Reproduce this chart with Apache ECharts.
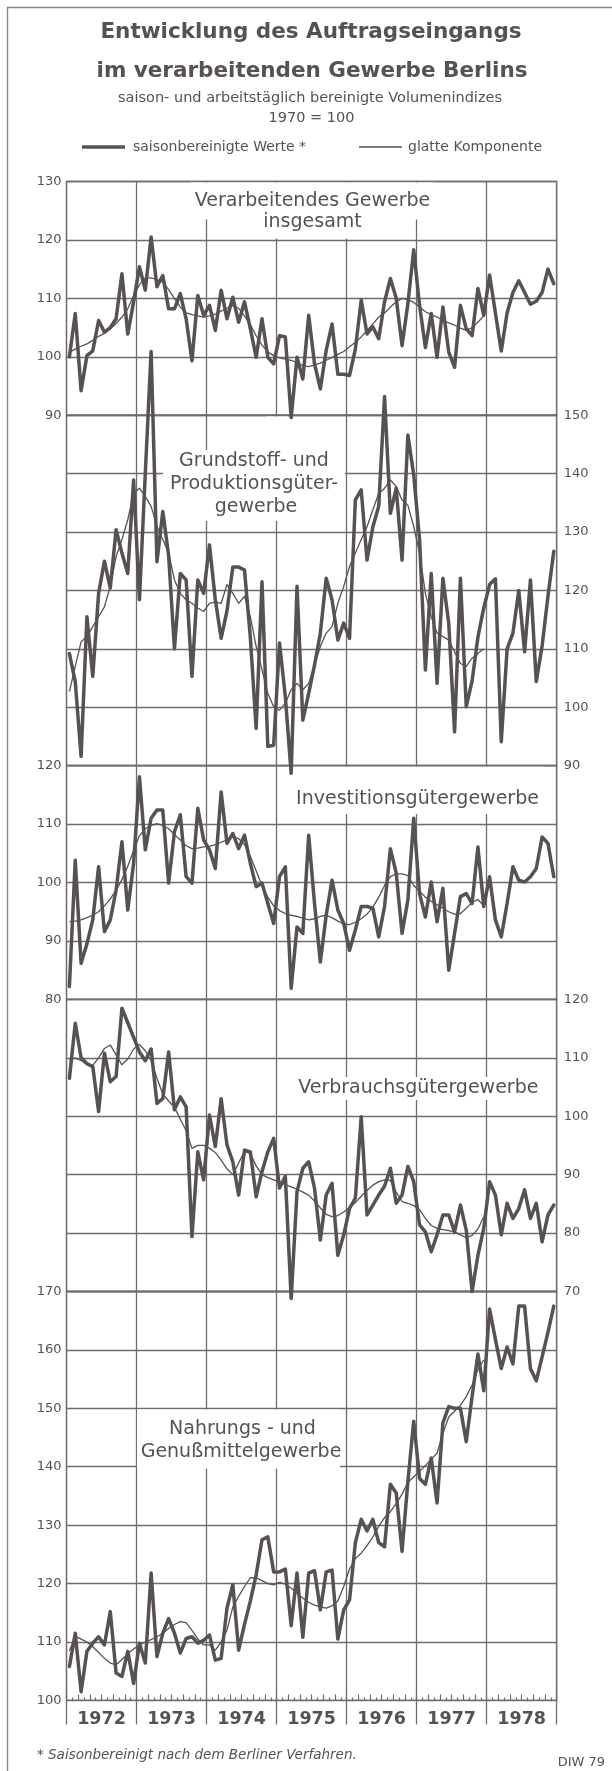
<!DOCTYPE html>
<html><head><meta charset="utf-8">
<script src="https://cdn.jsdelivr.net/npm/echarts@6/dist/echarts.min.js"></script>
<style>html,body{margin:0;padding:0;background:#fff}#c{width:612px;height:1771px}</style>
</head><body><div id="c"></div>
<script>
// ---------------- DATA ----------------
const years = ['1972','1973','1974','1975','1976','1977','1978'];

// Verarbeitendes Gewerbe insgesamt
const verarbRaw = [
 100, 107.4, 94.2, 100.2, 101, 106.2, 104.2, 105, 106.5, 114.2, 103.9, 109.4,
 115.4, 111.4, 120.5, 112, 113.9, 108.2, 108.2, 110.8, 106.5, 99.3, 110.5, 107.1,
 108.8, 104.5, 111.4, 106.5, 110.2, 105.9, 109.4, 104.8, 99.9, 106.5, 99.9, 98.8,
 103.6, 103.4, 89.6, 99.9, 96.2, 107.1, 98.8, 94.5, 101.1, 105.6, 97, 97,
 96.8, 101.3, 109.7, 103.9, 105.1, 103.1, 109.4, 113.4, 110, 101.9, 109.1, 118.3,
 108.8, 101.6, 107.4, 99.9, 108.5, 100.8, 98.2, 108.8, 104.8, 103.6, 111.7, 107.1,
 114, 107.5, 101, 107.5, 111, 113, 111, 109, 109.5, 111, 115, 112.5];
const verarbSmooth = [
 100.8, 101.3, 101.8, 102.2, 102.8, 103.5, 104, 104.8, 105.7, 106.8, 108.2, 110.5,
 112.3, 113.5, 113.5, 113.2, 112.8, 111.5, 110, 108.5, 107.5, 107.2, 107, 106.8,
 107, 107.3, 107.8, 108.3, 108.8, 108.3, 107, 105.5, 103.6, 102, 100.8, 100.2,
 99.8, 99.6, 99.4, 99, 98.5, 98.3, 98.6, 98.9, 99.4, 99.9, 100.4, 100.9,
 101.7, 102.5, 103.4, 104.5, 105.6, 106.8, 107.5, 108.5, 109.4, 110, 109.8, 109.3,
 108.5, 107.7, 107.2, 106.8, 106.2, 105.8, 105.4, 104.9, 104.5, 105, 105.9, 107];

// Grundstoff- und Produktionsgütergewerbe
const grundRaw = [
 109.2, 104.4, 91.6, 115.5, 105.3, 119.5, 125, 120.4, 130.4, 126.4, 122.9, 138.9,
 118.4, 140, 160.9, 124.9, 133.5, 126, 110, 122.9, 121.8, 105.3, 121.8, 119.5,
 127.8, 118.4, 111.8, 116.5, 124, 124, 123.5, 112, 96.4, 121.5, 93.3, 93.5,
 111, 101.8, 88.7, 120.7, 97.8, 102.4, 107.2, 112.7, 122.1, 118.4, 111.5, 114.4,
 111.8, 135.5, 137.2, 125.2, 130.9, 134.4, 153.2, 133.2, 137.5, 125.2, 146.6, 139.8,
 128.7, 106.4, 122.9, 104.1, 122.1, 114.4, 95.8, 122.1, 100.1, 104.5, 112, 117,
 121, 122, 94.1, 110, 112.7, 120, 109.5, 121.8, 104.4, 110.5, 119, 126.7];
const grundSmooth = [
 102.7, 107, 111.2, 112.1, 113.8, 115.5, 117.2, 120.7, 125.8, 128.7, 132.1, 136.6,
 137.5, 136.1, 134.4, 131, 128.7, 126.4, 121.8, 119.5, 118.4, 117.8, 117, 116.4,
 117.8, 118, 117.8, 121, 119.5, 117.8, 119, 115.5, 110.4, 106.4, 102.4, 100.1,
 99.5, 100.7, 103, 104.1, 103, 104.1, 107.2, 110.4, 112.7, 113.8, 117.8, 120.7,
 124.1, 126.4, 128.7, 130.9, 133.8, 136.6, 137.5, 138.9, 137.8, 135.5, 134.6, 130.9,
 126.4, 119.5, 115.5, 112.7, 112.1, 111.5, 109.5, 107.5, 107, 108.4, 109.2, 110];

// Investitionsgütergewerbe
const investRaw = [
 82.2, 103.8, 86.2, 89.5, 93.6, 102.7, 91.6, 93.6, 98.7, 107, 95.3, 103.3,
 118.1, 105.6, 111, 112.4, 112.4, 99.9, 108.7, 111.6, 101, 99.9, 112.7, 107.3,
 105.6, 102.4, 115.5, 106.7, 108.4, 105.8, 108.1, 103.3, 99.3, 99.9, 96.4, 93,
 101, 102.7, 81.9, 92.4, 91.3, 108.1, 96.4, 86.4, 94.4, 100.4, 95.3, 93,
 88.4, 91.9, 95.9, 95.9, 95.6, 90.7, 95.9, 105.8, 101.6, 91.3, 97, 111,
 98.1, 94.1, 100.1, 93.3, 99, 85, 91.3, 97.6, 98.1, 96.4, 106.1, 95.9,
 101, 93.6, 90.7, 96.4, 102.7, 100.4, 100.1, 101, 102.4, 107.8, 106.7, 101];
const investSmooth = [
 93.3, 93.4, 93.6, 94, 94.4, 95, 96, 97.2, 98.7, 100.5, 102.8, 105.5,
 108, 109.2, 109.8, 110.1, 109.8, 109.2, 108.2, 107.3, 106.3, 105.8, 105.9, 106.1,
 106.2, 106.5, 106.9, 107.3, 107.8, 107.5, 106.5, 104.5, 102, 99.5, 97.5, 96,
 95.2, 94.7, 94.4, 94.2, 93.9, 93.6, 93.8, 94.2, 94.4, 94, 93.4, 92.9,
 92.8, 93.2, 93.8, 94.6, 95.8, 97.5, 99.5, 101, 101.5, 101.5, 101.2, 99.5,
 98.5, 97.5, 96.8, 96.2, 95.6, 95, 94.6, 94.7, 95.6, 96.6, 97.1, 96];

// Verbrauchsgütergewerbe
const verbrRaw = [
 106.5, 115.9, 110, 109, 108.5, 100.8, 110.8, 105.9, 106.8, 118.5, 116, 113.5,
 111, 109.5, 111.5, 102.2, 103, 111, 101.1, 103.3, 101.6, 79.4, 93.9, 89.1,
 100.2, 94.8, 103, 95.1, 92.2, 86.5, 94.2, 93.9, 86.2, 90.5, 93.9, 96.2,
 87.7, 89.7, 68.8, 87.1, 91.1, 92.2, 87.7, 78.8, 86.5, 88.5, 76.2, 79.7,
 84.2, 86, 99.9, 83.1, 84.8, 86.5, 88, 91.1, 85.1, 86.5, 91.4, 88.8,
 81.4, 80.2, 76.8, 79.7, 83.1, 83.1, 80.2, 84.8, 80.5, 70, 76.2, 80.8,
 88.8, 86.5, 79.7, 85.1, 82.5, 84.2, 87.4, 82.5, 85.1, 78.5, 83.1, 84.8];
const verbrSmooth = [
 109.6, 110, 109.5, 109, 108.7, 110, 111.6, 112.2, 110.5, 108.8, 109.8, 111.5,
 112.3, 111.2, 109.5, 106.5, 103.8, 102.6, 101.5, 99.5, 97.5, 94.5, 95, 95,
 94.5, 93.8, 92.5, 91, 90, 92, 94, 93.6, 91.5, 90, 89.5, 89.1,
 88.7, 88.3, 87.9, 87.5, 87, 86.5, 85.5, 84.3, 83.2, 82.8, 83, 83.6,
 84.4, 85.2, 86.3, 87.3, 88.2, 88.8, 89.1, 89, 87, 85.4, 85.1, 84.7,
 84, 82.5, 81.3, 80.8, 80.6, 80.4, 80.2, 79.7, 79.2, 79.6, 80.7, 82.8];

// Nahrungs- und Genußmittelgewerbe
const nahrRaw = [
 105.8, 111.5, 101.5, 108.4, 109.8, 110.9, 109.5, 115.2, 104.7, 104.1, 108.4, 102.9,
 109.8, 106.4, 121.8, 107.5, 111.5, 114, 111.5, 108.1, 110.6, 110.9, 109.8, 110.3,
 111.2, 106.9, 107.2, 115.8, 119.8, 108.6, 113, 117, 121.5, 127.5, 128, 122,
 122, 122.5, 112.8, 121.8, 110.8, 121.8, 122.2, 115.5, 122, 122.3, 110.5, 115.5,
 117.2, 127, 131, 129, 131, 127, 126.3, 137, 135.5, 125.5, 137.5, 147.8,
 138, 137, 141.5, 133.8, 147.5, 150.3, 150, 150, 144.3, 152, 159.3, 153,
 167, 161.8, 156.8, 160.5, 157.6, 167.5, 167.5, 156.8, 154.7, 158.8, 163, 167.5];
const nahrSmooth = [
 108.5, 111, 110.5, 110, 109.2, 108.2, 107.2, 106.4, 106.1, 107, 108, 108.8,
 109.5, 110, 110.4, 110.9, 111.5, 112.3, 113, 113.5, 113.3, 112, 110.5, 109.5,
 109.5, 108.6, 110, 112, 116, 117.8, 119.5, 121, 121, 120.5, 120, 119.8,
 120.2, 119.9, 119.2, 118.3, 117.5, 116.8, 116.3, 116, 115.8, 116.2, 117, 119.5,
 122.5, 124.3, 125.2, 126.5, 128, 129.8, 131.3, 132.3, 133.7, 135.3, 137.3, 138.3,
 139.2, 140.2, 141.3, 142.3, 145.7, 148.5, 149.5, 150.5, 152, 154, 156.6, 158.3];

// ---------------- LAYOUT / STYLE ----------------
const INK = '#575151';
const GRIDC = '#716b6b';
const FONT = '"DejaVu Sans", sans-serif';
const PX = 5.842;            // pixels per index point
const TOP = 181.5, LEFT = 66.5, RIGHTX = 556.7;
const MONTHS = verarbRaw.length;

const panels = [
  {raw: verarbRaw, smooth: verarbSmooth, min: 90,  max: 130, side: 'left'},
  {raw: grundRaw,  smooth: grundSmooth,  min: 90,  max: 150, side: 'right'},
  {raw: investRaw, smooth: investSmooth, min: 80,  max: 120, side: 'left'},
  {raw: verbrRaw,  smooth: verbrSmooth,  min: 70,  max: 120, side: 'right'},
  {raw: nahrRaw,   smooth: nahrSmooth,   min: 100, max: 170, side: 'left'}
];
let yy = TOP;
panels.forEach(p => { p.top = yy; p.height = (p.max - p.min) * PX; yy += p.height; });

const grid = [], xAxis = [], yAxis = [], series = [];
panels.forEach((p, k) => {
  const last = k === panels.length - 1;
  grid.push({left: LEFT, right: 612 - RIGHTX, top: p.top, height: p.height,
    show: true, borderColor: GRIDC, borderWidth: 1.3, backgroundColor: 'transparent'});
  xAxis.push({gridIndex: k, type: 'value', min: 0, max: MONTHS, interval: 12,
    axisLine: {show: false},
    axisTick: {show: last, length: 24, inside: false, lineStyle: {color: GRIDC, width: 1.3}},
    axisLabel: {show: false},
    splitLine: {show: true, lineStyle: {color: GRIDC, width: 1.3}}});
  yAxis.push({gridIndex: k, type: 'value', min: p.min, max: p.max, interval: 10, position: p.side,
    axisLine: {show: false}, axisTick: {show: false},
    axisLabel: {color: INK, fontFamily: FONT, fontSize: 13, margin: p.side === 'left' ? 5 : 7},
    splitLine: {show: true, lineStyle: {color: GRIDC, width: 1.3}}});
  series.push({type: 'line', xAxisIndex: k, yAxisIndex: k, showSymbol: false, clip: false,
    silent: true, z: 4,
    data: p.raw.map((v, i) => [i + 0.5, v]),
    lineStyle: {color: INK, width: 3.5, join: 'round', cap: 'round'}});
  series.push({type: 'line', xAxisIndex: k, yAxisIndex: k, showSymbol: false, clip: false,
    silent: true, z: 5,
    data: p.smooth.map((v, i) => [i + 0.5, v]),
    lineStyle: {color: INK, width: 1.3, join: 'round'}});
});
// month ticks and year labels on the bottom panel
xAxis.push({gridIndex: panels.length - 1, type: 'value', min: 0, max: MONTHS, interval: 2,
  position: 'bottom',
  axisLine: {show: false},
  axisTick: {show: true, inside: true, length: 6, lineStyle: {color: GRIDC, width: 1.2}},
  minorTick: {show: true, splitNumber: 2, length: 3, lineStyle: {color: GRIDC, width: 1.2}},
  splitLine: {show: false},
  axisLabel: {show: true, margin: 10, color: INK, fontFamily: FONT, fontWeight: 'bold', fontSize: 17.5,
    formatter: v => (v % 12 === 6 ? years[(v - 6) / 12] : '')}});

function txt(text, x, y, size, opts) {
  opts = opts || {};
  return {type: 'text', z: 10, silent: true, style: Object.assign({
    text: text, x: x, y: y, fill: INK,
    font: (opts.style || '') + ' ' + (opts.weight || 'normal') + ' ' + size + 'px ' + FONT,
    textAlign: opts.align || 'center', align: opts.align || 'center',
    textVerticalAlign: 'middle', verticalAlign: 'middle'}, opts.extra || {})};
}
function mask(x1, y1, x2, y2) {
  return {type: 'rect', z: 1, silent: true, shape: {x: x1, y: y1, width: x2 - x1, height: y2 - y1},
    style: {fill: '#ffffff'}};
}
function hline(x1, x2, y, w) {
  return {type: 'line', z: 10, silent: true, shape: {x1: x1, y1: y, x2: x2, y2: y},
    style: {stroke: INK, lineWidth: w}};
}

const graphic = [
  // frame edges
  {type: 'line', silent: true, shape: {x1: 7, y1: 7.5, x2: 612, y2: 7.5}, style: {stroke: '#8a8484', lineWidth: 1.4}},
  {type: 'line', silent: true, shape: {x1: 7.5, y1: 7, x2: 7.5, y2: 1771}, style: {stroke: '#8a8484', lineWidth: 1.4}},
  // titles
  txt('Entwicklung des Auftragseingangs', 311, 32, 21.5, {weight: 'bold'}),
  txt('im verarbeitenden Gewerbe Berlins', 312, 71, 21.5, {weight: 'bold'}),
  txt('saison- und arbeitstäglich bereinigte Volumenindizes', 310, 98.5, 14.5),
  txt('1970 = 100', 311.5, 118.5, 14.5),
  // legend
  hline(82, 125, 147, 3.5),
  txt('saisonbereinigte Werte *', 133, 147.5, 14, {align: 'left'}),
  hline(359, 402, 147, 1.3),
  txt('glatte Komponente', 408, 147.5, 14, {align: 'left'}),
  // panel label masks
  mask(190, 182.5, 435, 219.5), mask(255, 219, 370, 238.5),
  mask(163, 450, 345, 521), mask(266, 416.5, 288, 451),
  mask(290, 766.7, 545, 814),
  mask(293, 1077, 544, 1100),
  mask(137, 1409.5, 340, 1468.5),
  // panel labels
  txt('Verarbeitendes Gewerbe', 312.5, 201, 19),
  txt('insgesamt', 312.5, 222, 19),
  txt('Grundstoff- und', 254, 461, 19),
  txt('Produktionsgüter-', 254, 484.5, 19),
  txt('gewerbe', 256, 507, 19),
  txt('Investitionsgütergewerbe', 417.5, 799, 19),
  txt('Verbrauchsgütergewerbe', 418.3, 1088, 19),
  txt('Nahrungs - und', 242.5, 1429, 19),
  txt('Genußmittelgewerbe', 241, 1452, 19),
  // footnote
  txt('* Saisonbereinigt nach dem Berliner Verfahren.', 37, 1755, 13.5, {align: 'left', style: 'italic'}),
  txt('DIW 79', 605, 1763, 13, {align: 'right'})
];

const chart = echarts.init(document.getElementById('c'), null, {renderer: 'canvas'});
chart.setOption({
  animation: false,
  backgroundColor: '#ffffff',
  grid: grid, xAxis: xAxis, yAxis: yAxis, series: series, graphic: graphic
});
</script>
</body></html>
